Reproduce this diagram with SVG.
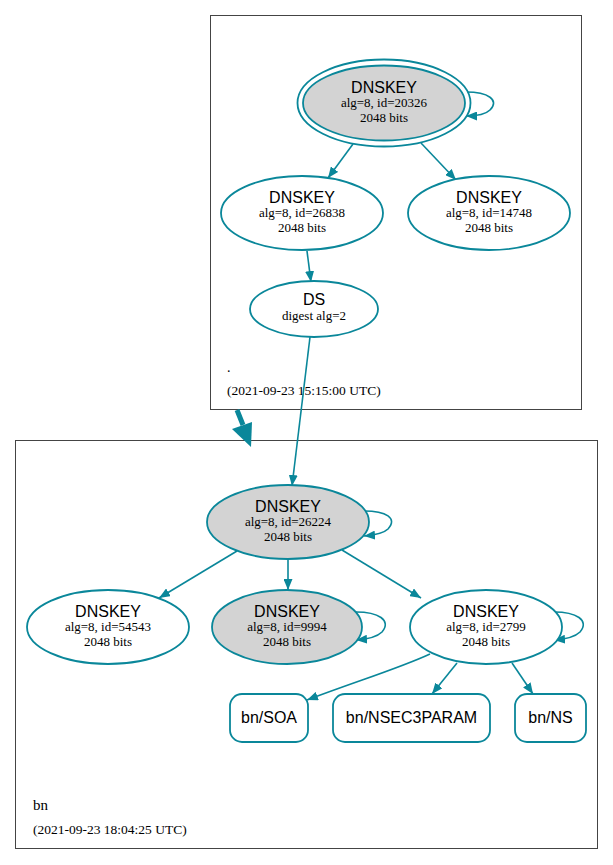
<svg xmlns="http://www.w3.org/2000/svg" width="613" height="865" viewBox="0 0 613 865">
<defs>
<marker id="ah" viewBox="0 0 11 9" refX="11" refY="4.5" markerWidth="11" markerHeight="9" markerUnits="userSpaceOnUse" orient="auto">
<path d="M0,0 L11,4.5 L0,9 z" fill="#0a879a"/>
</marker>
</defs>
<style>
.cl{fill:#fff;stroke:#444;stroke-width:1}
.n{fill:#fff;stroke:#0a879a;stroke-width:1.8}
.g{fill:#d3d3d3}
.e{fill:none;stroke:#0a879a;stroke-width:1.6;marker-end:url(#ah)}
.t{font-family:"Liberation Sans",Arial,sans-serif;font-size:16px;fill:#000;text-anchor:middle}
.s{font-family:"Liberation Serif","Times New Roman",serif;font-size:13px;fill:#000;text-anchor:middle}
.l{font-family:"Liberation Serif","Times New Roman",serif;fill:#000}
</style>
<rect width="613" height="865" fill="#fff"/>
<g id="cluster_root">
<rect class="cl" x="210.5" y="15.5" width="371" height="394"/>
<text class="l" x="227" y="372" font-size="14">.</text>
<text class="l" x="227" y="395" font-size="13.5">(2021-09-23 15:15:00 UTC)</text>
</g>
<g id="cluster_bn">
<rect class="cl" x="15.5" y="440.5" width="582" height="408"/>
<text class="l" x="33" y="810" font-size="15">bn</text>
<text class="l" x="33" y="834" font-size="13.5">(2021-09-23 18:04:25 UTC)</text>
</g>
<g id="edges">
<path class="e" d="M466,92 C488,92 500,100 490,110 C486,114 478,116 466,116"/>
<path class="e" d="M353,144 L328,178"/>
<path class="e" d="M421,143 L456,180"/>
<path class="e" d="M307,251 L311,282"/>
<path class="e" d="M310,337 L292,486"/>
<path d="M237,410 L243,425" stroke="#0a879a" stroke-width="5" fill="none"/>
<path d="M232,429 L252,422 L251,447 z" fill="#0a879a"/>
<path class="e" d="M364,511 C386,511 398,518 388,529 C384,533 376,535 364,536"/>
<path class="e" d="M237,551 L159,598"/>
<path class="e" d="M288,560 L288,590"/>
<path class="e" d="M342,550 L421,598"/>
<path class="e" d="M356,612 C378,612 392,620 382,632 C378,636 370,639 356,640"/>
<path class="e" d="M554,612 C576,612 590,620 580,632 C576,636 568,639 554,640"/>
<path class="e" d="M430,654 C400,668 360,680 307,700"/>
<path class="e" d="M457,663 L432,694"/>
<path class="e" d="M512,663 L533,694"/>
</g>
<g id="dnskey_20326">
<ellipse class="n" cx="384" cy="103" rx="86.5" ry="43.5"/>
<ellipse class="n g" cx="384" cy="103" rx="81" ry="37.5"/>
<text class="t" x="384" y="93">DNSKEY</text>
<text class="s" x="384" y="107">alg=8, id=20326</text>
<text class="s" x="384" y="121.5">2048 bits</text>
</g>
<g id="dnskey_26838">
<ellipse class="n" cx="302" cy="213" rx="81" ry="37"/>
<text class="t" x="302" y="203">DNSKEY</text>
<text class="s" x="302" y="217">alg=8, id=26838</text>
<text class="s" x="302" y="231.5">2048 bits</text>
</g>
<g id="dnskey_14748">
<ellipse class="n" cx="489" cy="213" rx="81" ry="37"/>
<text class="t" x="489" y="203">DNSKEY</text>
<text class="s" x="489" y="217">alg=8, id=14748</text>
<text class="s" x="489" y="231.5">2048 bits</text>
</g>
<g id="ds_root">
<ellipse class="n" cx="314" cy="309" rx="64" ry="28"/>
<text class="t" x="314" y="305">DS</text>
<text class="s" x="314" y="320">digest alg=2</text>
</g>
<g id="dnskey_26224">
<ellipse class="n g" cx="288" cy="522" rx="81" ry="37"/>
<text class="t" x="288" y="512">DNSKEY</text>
<text class="s" x="288" y="526">alg=8, id=26224</text>
<text class="s" x="288" y="540.5">2048 bits</text>
</g>
<g id="dnskey_54543">
<ellipse class="n" cx="108" cy="627" rx="81" ry="37"/>
<text class="t" x="108" y="617">DNSKEY</text>
<text class="s" x="108" y="631">alg=8, id=54543</text>
<text class="s" x="108" y="645.5">2048 bits</text>
</g>
<g id="dnskey_9994">
<ellipse class="n g" cx="287" cy="627" rx="75" ry="37"/>
<text class="t" x="287" y="617">DNSKEY</text>
<text class="s" x="287" y="631">alg=8, id=9994</text>
<text class="s" x="287" y="645.5">2048 bits</text>
</g>
<g id="dnskey_2799">
<ellipse class="n" cx="486" cy="627" rx="76" ry="37"/>
<text class="t" x="486" y="617">DNSKEY</text>
<text class="s" x="486" y="631">alg=8, id=2799</text>
<text class="s" x="486" y="645.5">2048 bits</text>
</g>
<g id="bn_soa">
<rect class="n" x="230" y="694" width="78" height="48" rx="12"/>
<text class="t" x="269" y="723">bn/SOA</text>
</g>
<g id="bn_nsec3param">
<rect class="n" x="333" y="694" width="157" height="48" rx="12"/>
<text class="t" x="411.5" y="723">bn/NSEC3PARAM</text>
</g>
<g id="bn_ns">
<rect class="n" x="515" y="694" width="71" height="48" rx="12"/>
<text class="t" x="550.5" y="723">bn/NS</text>
</g>
</svg>
